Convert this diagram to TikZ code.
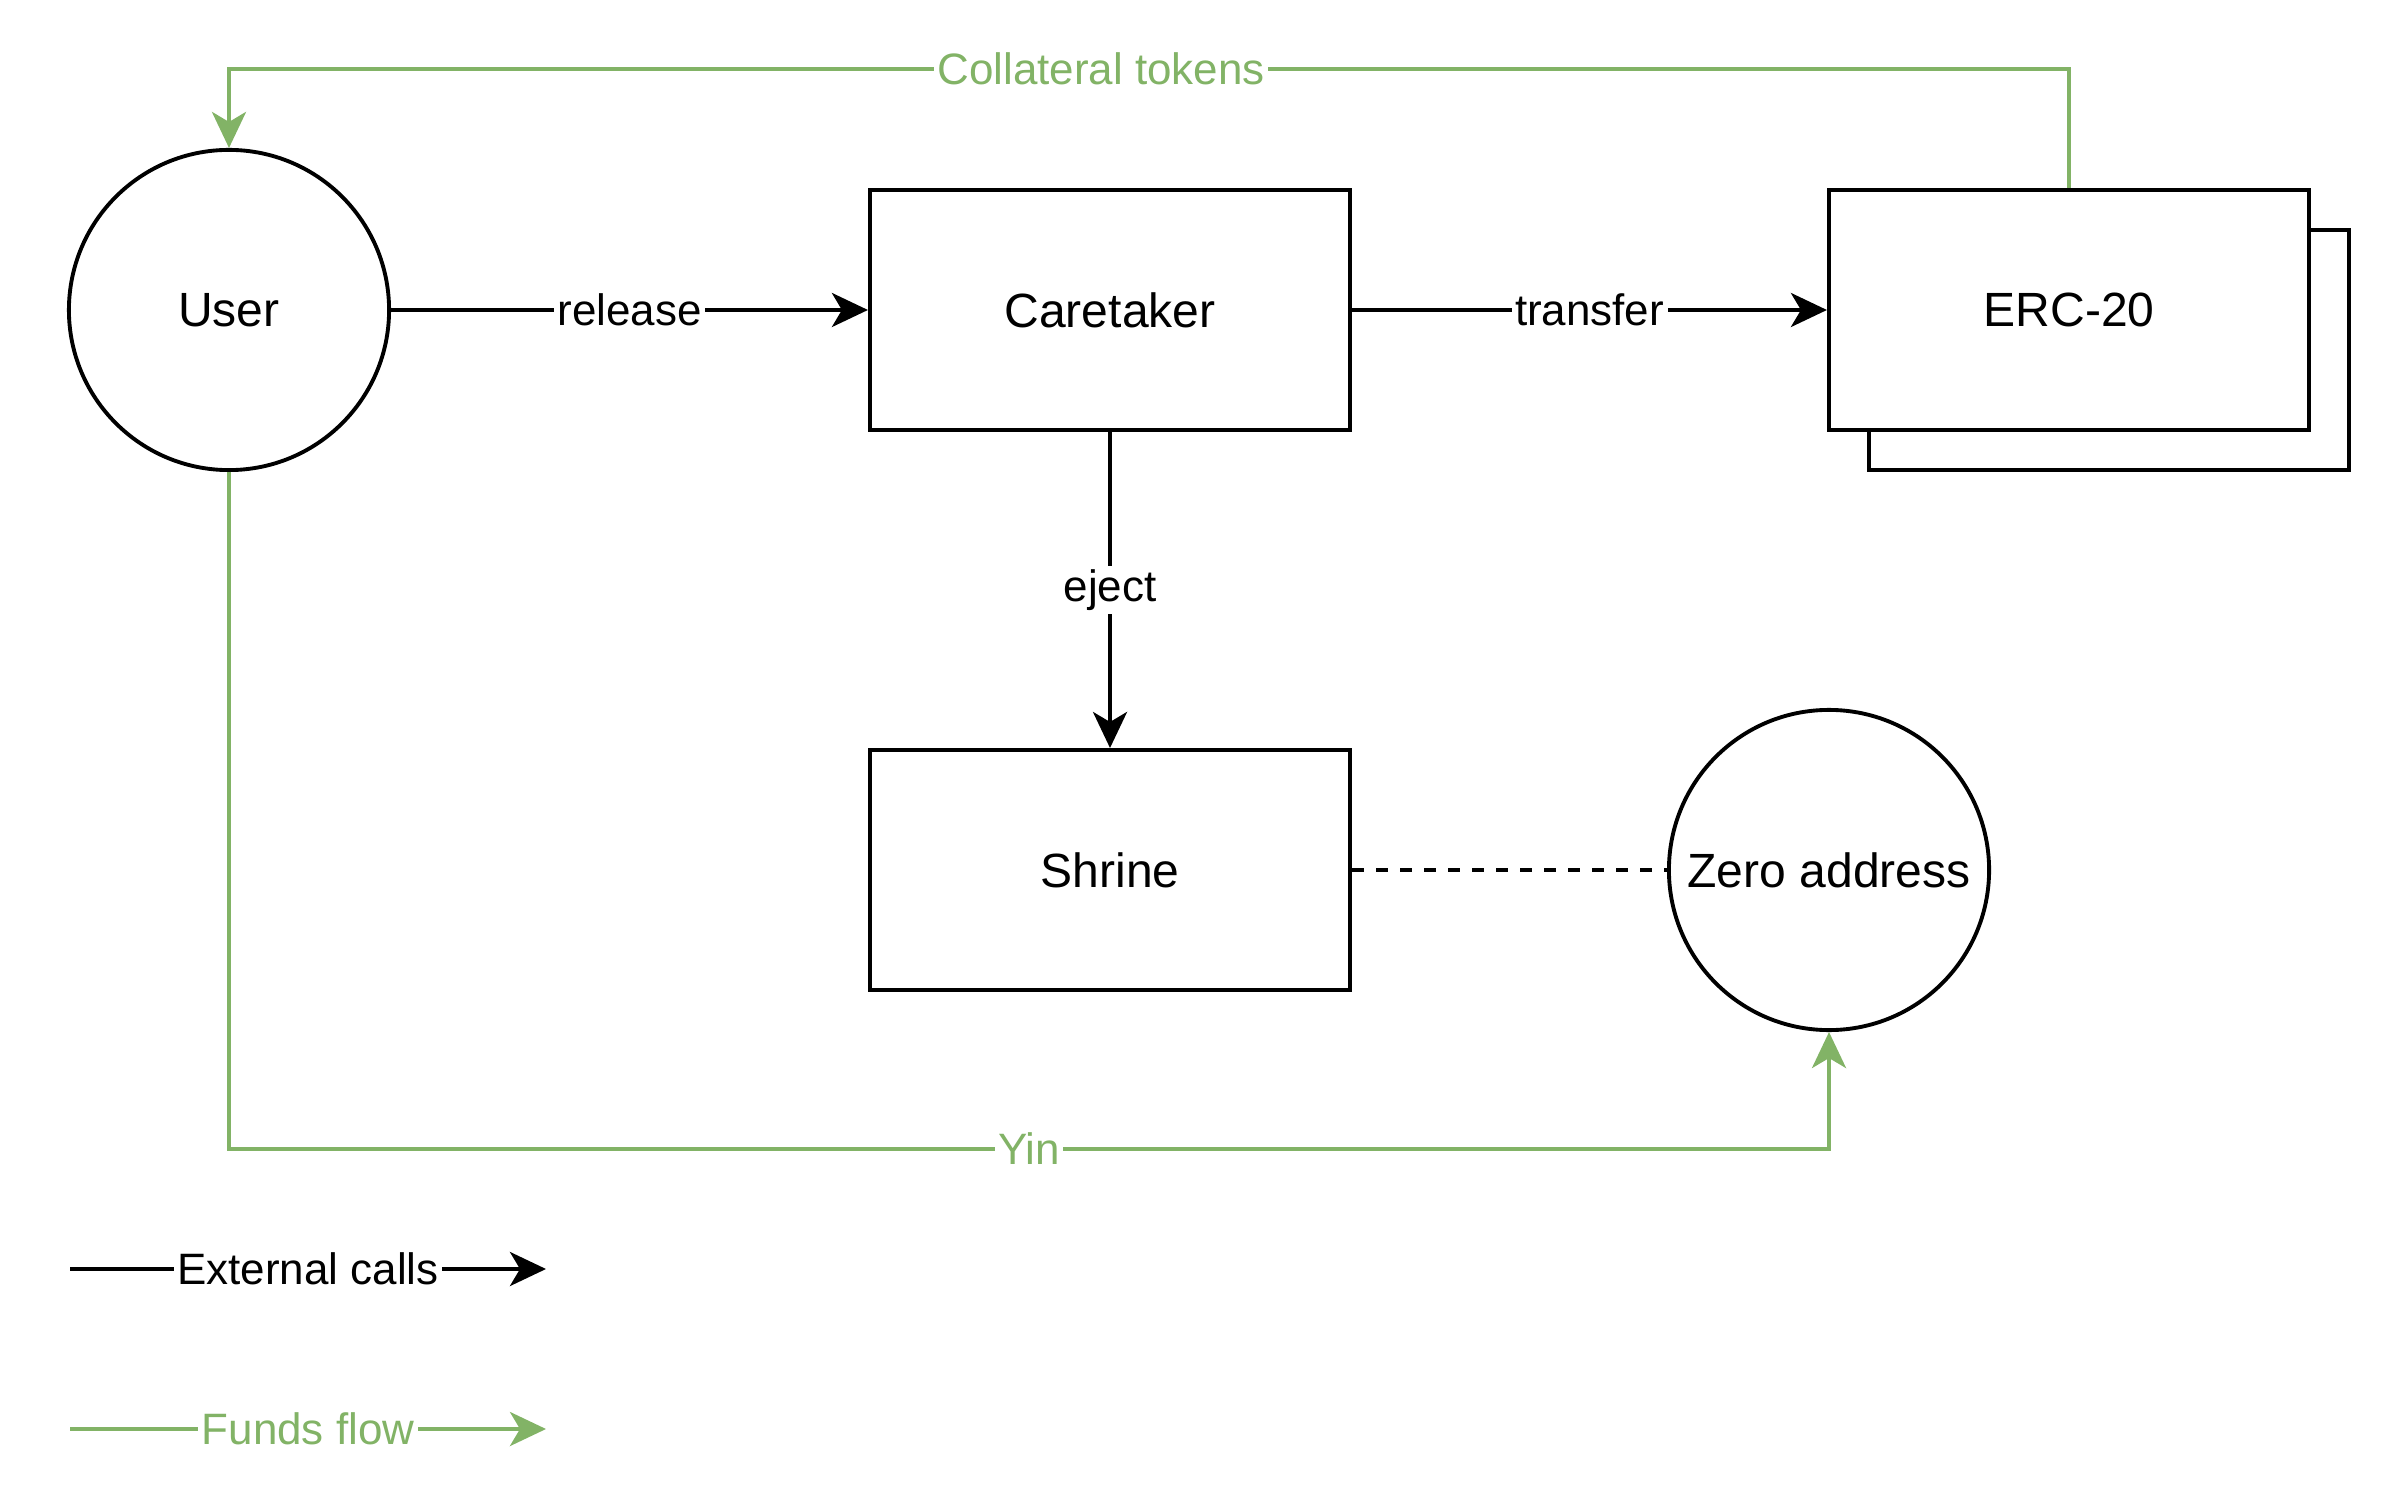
\documentclass[tikz,border=0pt]{standalone}
\usepackage{fontspec}
\setmainfont{Liberation Sans}
\usetikzlibrary{arrows.meta,positioning}

\definecolor{fundsgreen}{HTML}{82B366}
\newcommand{\boxfont}{\fontsize{13.66pt}{16pt}\selectfont}
\newcommand{\edgefont}{\fontsize{12.5pt}{15pt}\selectfont}

\begin{document}
\begin{tikzpicture}[x={(0.01cm,0cm)}, y={(0cm,-0.01cm)},
    box/.style={draw, line width=1.1pt, fill=white, minimum width=4.8cm, minimum height=2.4cm, inner sep=0pt, font=\boxfont},
    party/.style={circle, draw, line width=1.1pt, fill=white, minimum size=3.2cm, inner sep=0pt, font=\boxfont},
    call/.style={line width=1.1pt, -{Stealth[length=0.36cm, width=0.34cm, inset=0.1cm]}},
    funds/.style={call, color=fundsgreen},
    lbl/.style={fill=white, inner sep=1pt, font=\edgefont},
  ]

    \useasboundingbox (0,0) rectangle (2392,1504);

    %draw the contracts and parties
    \node[party] (user) at (229,310) {User};
    \node[box] (caretaker) at (1110,310) {Caretaker};
    \node[box] (ercback) at (2109,350) {};
    \node[box] (erc) at (2069,310) {ERC-20};
    \node[box] (shrine) at (1110,870) {Shrine};
    \node[party] (zero) at (1829,870) {Zero address};

    %external calls
    \draw[call] (user) -- node[lbl] {release} (caretaker);
    \draw[call] (caretaker) -- node[lbl] {transfer} (erc);
    \draw[call] (caretaker) -- node[lbl] {eject} (shrine);
    \draw[line width=1.1pt, dash pattern=on 0.12cm off 0.12cm] (shrine) -- (zero);

    %funds flow
    \draw[funds] (erc.north) -- (erc.north |- 0,69) -- node[lbl, pos=0.526] {Collateral tokens} (user.north |- 0,69) -- (user.north);
    \draw[funds] (user.south) -- (user.south |- 0,1149) -- node[lbl] {Yin} (zero.south |- 0,1149) -- (zero.south);

    %legend
    \coordinate (callsfrom) at (70,1269);
    \coordinate (callsto) at (546,1269);
    \coordinate (fundsfrom) at (70,1429);
    \coordinate (fundsto) at (546,1429);
    \draw[call] (callsfrom) -- node[lbl] {External calls} (callsto);
    \draw[funds] (fundsfrom) -- node[lbl] {Funds flow} (fundsto);

\end{tikzpicture}
\end{document}
